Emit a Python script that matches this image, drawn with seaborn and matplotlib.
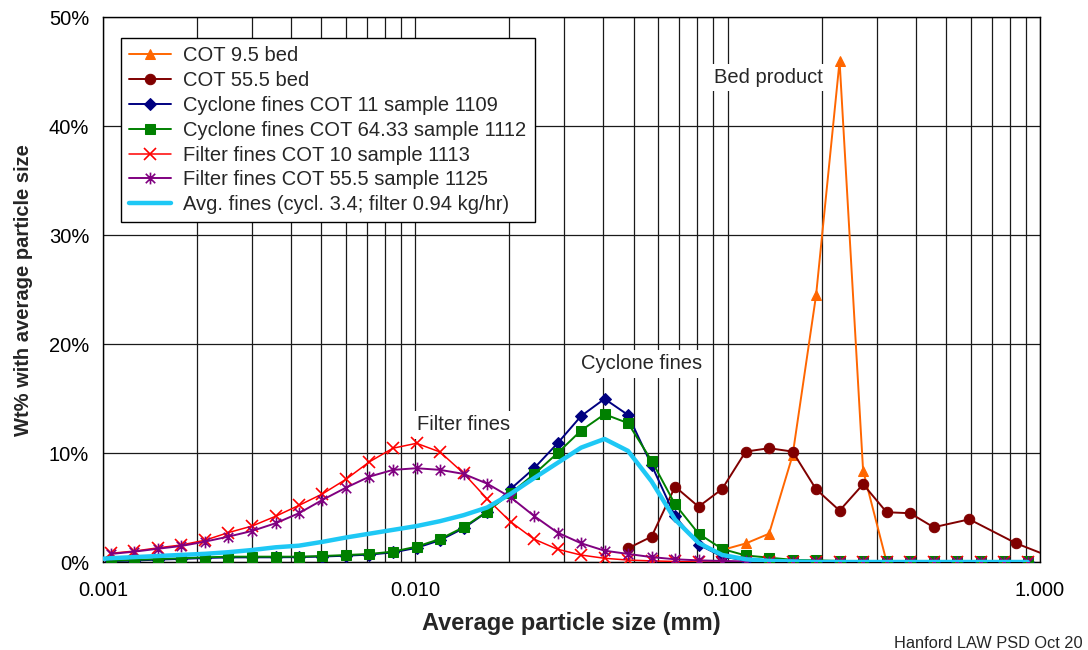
import matplotlib
matplotlib.use("Agg")
import matplotlib.pyplot as plt
from matplotlib.path import Path
from matplotlib.ticker import FixedLocator, FuncFormatter, LogLocator, NullFormatter
import pandas as pd
import seaborn as sns

# ---------------- data ----------------
# average particle size of each size channel (mm)
sizes_mm = [0.00106, 0.00126, 0.00150, 0.00178, 0.00212, 0.00252, 0.00300, 0.00357,
            0.00424, 0.00504, 0.00600, 0.00713, 0.00848, 0.01009, 0.01200, 0.01427,
            0.01697, 0.02017, 0.02399, 0.02853, 0.03393, 0.04035, 0.04798, 0.05707,
            0.06786, 0.08070, 0.09598, 0.1142, 0.1357, 0.1614, 0.1919, 0.2282,
            0.2714, 0.3228, 0.3839, 0.4565, 0.5429, 0.6456, 0.7678, 0.9129]

# COT 9.5 bed (wt%)
bed95_sizes = [0.09598, 0.1142, 0.1357, 0.1614, 0.1919, 0.2282, 0.2714, 0.3228,
               0.3839, 0.4565, 0.5429, 0.6456, 0.7678, 0.9129]
bed95_wt = [1.1, 1.7, 2.6, 9.8, 24.5, 46.0, 8.4, 0.0, 0.0, 0.0, 0.0, 0.0, 0.0, 0.0]

# COT 55.5 bed (wt%)
bed555_sizes = [0.04798, 0.05707, 0.06786, 0.08070, 0.09598, 0.1142, 0.1357, 0.1614,
                0.1919, 0.2282, 0.2714, 0.3228, 0.3839, 0.4565, 0.594, 0.838, 1.19]
bed555_wt = [1.26, 2.33, 6.92, 5.08, 6.7, 10.14, 10.45, 10.14, 6.68, 4.72, 7.14, 4.57,
             4.48, 3.19, 3.92, 1.72, 0.0]

# Cyclone fines COT 11 sample 1109
cyc1109_wt = [0.08, 0.13, 0.22, 0.28, 0.37, 0.42, 0.43, 0.43, 0.45, 0.5, 0.58, 0.68,
              0.88, 1.3, 2.0, 3.1, 4.6, 6.7, 8.6, 10.9, 13.4, 14.98, 13.5, 8.9,
              4.2, 1.6, 0.5, 0.15, 0.05, 0.02, 0.0, 0.0, 0.0, 0.0, 0.0, 0.0,
              0.0, 0.0, 0.0, 0.0]

# Cyclone fines COT 64.33 sample 1112
cyc1112_wt = [0.12, 0.18, 0.28, 0.34, 0.43, 0.49, 0.49, 0.49, 0.49, 0.55, 0.64, 0.74,
              0.95, 1.41, 2.11, 3.19, 4.63, 6.3, 8.06, 10.0, 12.07, 13.57, 12.75, 9.3,
              5.3, 2.6, 1.2, 0.6, 0.4, 0.2, 0.15, 0.1, 0.05, 0.05, 0.05, 0.05,
              0.05, 0.05, 0.05, 0.05]

# Filter fines COT 10 sample 1113
filt1113_wt = [0.8, 1.0, 1.3, 1.56, 2.0, 2.7, 3.3, 4.2, 5.2, 6.25, 7.6, 9.2,
               10.45, 10.9, 10.1, 8.15, 5.8, 3.7, 2.1, 1.17, 0.64, 0.34, 0.18, 0.1,
               0.05, 0.0, 0.0, 0.0, 0.0, 0.0, 0.0, 0.0, 0.0, 0.0, 0.0, 0.0,
               0.0, 0.0, 0.0, 0.0]

# Filter fines COT 55.5 sample 1125
filt1125_wt = [0.74, 0.95, 1.22, 1.47, 1.87, 2.33, 2.85, 3.56, 4.48, 5.7, 6.83, 7.84,
               8.46, 8.61, 8.46, 8.09, 7.2, 5.95, 4.23, 2.7, 1.72, 1.04, 0.74, 0.45,
               0.25, 0.15, 0.1, 0.05, 0.02, 0.02, 0.02, 0.02, 0.02, 0.02, 0.02, 0.02,
               0.02, 0.02, 0.02, 0.02]

# Avg. fines (cycl. 3.4; filter 0.94 kg/hr)
avg_sizes = [0.00100] + sizes_mm
avg_wt = [0.3, 0.35, 0.45, 0.55, 0.65, 0.75, 0.9, 1.1, 1.35, 1.5, 1.85, 2.25, 2.6,
          2.95, 3.3, 3.75, 4.3, 5.0, 6.25, 7.7, 9.1, 10.5, 11.3, 10.2, 7.4,
          3.9, 1.75, 0.65, 0.25, 0.1, 0.05, 0.0, 0.0, 0.0, 0.0, 0.0, 0.0,
          0.0, 0.0, 0.0, 0.0]

labels = ["COT 9.5 bed", "COT 55.5 bed", "Cyclone fines COT 11 sample 1109",
          "Cyclone fines COT 64.33 sample 1112", "Filter fines COT 10 sample 1113",
          "Filter fines COT 55.5 sample 1125", "Avg. fines (cycl. 3.4; filter 0.94 kg/hr)"]
x_ticks = [0.001, 0.01, 0.1, 1.0]
y_ticks = [0, 10, 20, 30, 40, 50]

# ---------------- style ----------------
sns.set_style("white")
plt.rcParams["font.family"] = ["Liberation Sans", "DejaVu Sans"]

star = Path([(-1, -1), (1, 1), (-1, 1), (1, -1), (0, -1.25), (0, 1.25)],
            [Path.MOVETO, Path.LINETO, Path.MOVETO, Path.LINETO, Path.MOVETO, Path.LINETO])

series = [
    (bed95_sizes, bed95_wt, "#FF6600", "^", 7.5, 1.4, {}),
    (bed555_sizes, bed555_wt, "#800000", "o", 7.5, 1.4, {}),
    (sizes_mm, cyc1109_wt, "#000080", "D", 6, 1.4, {}),
    (sizes_mm, cyc1112_wt, "#008000", "s", 7.5, 1.4, {}),
    (sizes_mm, filt1113_wt, "#FF0000", "x", 9, 1.1, {"markeredgewidth": 1.2}),
    (sizes_mm, filt1125_wt, "#800080", star, 8.5, 1.4, {"markeredgewidth": 1.2}),
    (avg_sizes, avg_wt, "#1EC8F5", None, 0, 3.2, {}),
]

fig = plt.figure(figsize=(10.88, 6.5), dpi=100)
ax = fig.add_axes([103 / 1088, 1 - 562 / 650, (1040 - 103) / 1088, (562 - 17.5) / 650])

for i, (xs, ys, col, mk, ms, lw, extra) in enumerate(series):
    df = pd.DataFrame({"size": xs, "wt": ys})
    kw = dict(color=col, linewidth=lw, label=labels[i], ax=ax, zorder=3 + i,
              estimator=None, sort=False)
    if mk is not None:
        kw.update(marker=mk, markersize=ms, markeredgecolor=col, markerfacecolor=col)
        kw.update(extra)
    sns.lineplot(data=df, x="size", y="wt", **kw)

ax.set_xscale("log")
ax.set_xlim(0.001, 1.0)
ax.set_ylim(0, 50)

ax.xaxis.set_major_locator(FixedLocator(x_ticks))
ax.xaxis.set_major_formatter(FuncFormatter(lambda v, p: f"{v:.3f}"))
ax.xaxis.set_minor_locator(LogLocator(base=10, subs=range(2, 10)))
ax.xaxis.set_minor_formatter(NullFormatter())
ax.yaxis.set_major_locator(FixedLocator(y_ticks))
ax.yaxis.set_major_formatter(FuncFormatter(lambda v, p: f"{v:.0f}%"))

ax.grid(True, which="both", axis="x", color="#1a1a1a", linewidth=0.9)
ax.grid(True, which="major", axis="y", color="#1a1a1a", linewidth=0.9)
ax.set_axisbelow(True)

for s in ax.spines.values():
    s.set_color("black")
    s.set_linewidth(1.0)

ax.tick_params(axis="x", which="major", direction="out", length=5, width=1,
               pad=9, labelsize=14.5, colors="black")
ax.tick_params(axis="x", which="minor", length=0)
ax.tick_params(axis="y", which="major", direction="out", length=5, width=1,
               pad=5, labelsize=14.5, colors="black")

ax.set_xlabel("Average particle size (mm)", fontsize=17, fontweight="bold", labelpad=8)
ax.set_ylabel("Wt% with average particle size", fontsize=14.5, fontweight="bold", labelpad=11)

box = dict(facecolor="white", edgecolor="none", pad=3)
ax.text(0.1347, 44.5, "Bed product", fontsize=14.5, ha="center", va="center", bbox=box, zorder=2.5)
ax.text(0.0532, 18.2, "Cyclone fines", fontsize=14.5, ha="center", va="center", bbox=box, zorder=2.5)
ax.text(0.01432, 12.6, "Filter fines", fontsize=14.5, ha="center", va="center", bbox=box, zorder=2.5)

leg = ax.legend(loc="upper left", bbox_to_anchor=(0.0192, 0.962), frameon=True,
                fancybox=False, edgecolor="black", framealpha=1, fontsize=14.5,
                handlelength=2.1, labelspacing=0.29, borderpad=0.4,
                handletextpad=0.6, borderaxespad=0, numpoints=1)
leg.get_frame().set_linewidth(1.0)
leg.set_zorder(20)

fig.text(1083 / 1088, 1 - 643 / 650, "Hanford LAW PSD Oct 20", fontsize=11.75,
         ha="right", va="center")

fig.savefig("out.png", dpi=100)
